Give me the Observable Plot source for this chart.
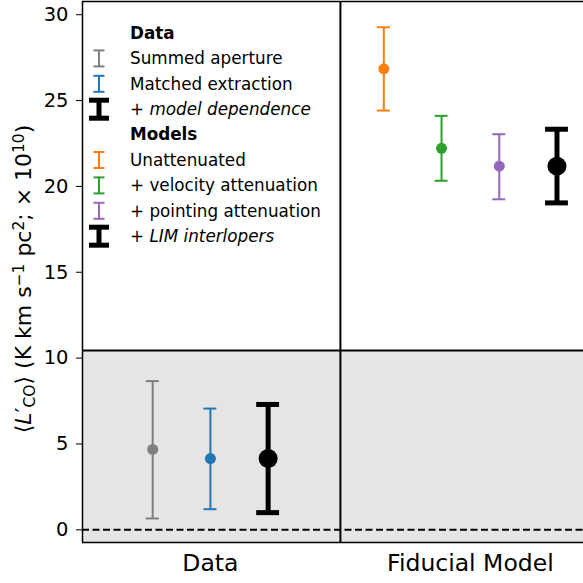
<!DOCTYPE html>
<html>
<head>
<meta charset="utf-8">
<script src="https://cdn.jsdelivr.net/npm/d3@7"></script>
<script src="https://cdn.jsdelivr.net/npm/@observablehq/plot@0.6"></script>
<style>
  html, body { margin: 0; padding: 0; background: white; }
  #chart { width: 583px; height: 583px; overflow: hidden; }
</style>
</head>
<body>
<div id="chart"></div>
<script>
// ---- data ----
const categories = ["Data", "Fiducial Model"];
const seriesNames = ["Summed aperture", "Matched extraction", "+ model dependence",
                     "Unattenuated", "+ velocity attenuation", "+ pointing attenuation", "+ LIM interlopers"];
const seriesGroup = [0, 0, 0, 1, 1, 1, 1];
const centerValues = [4.68, 4.15, 4.15, 26.85, 22.22, 21.18, 21.18];
const lowerValues  = [0.66, 1.20, 1.00, 24.42, 20.33, 19.25, 19.04];
const upperValues  = [8.66, 7.06, 7.30, 29.27, 24.11, 23.04, 23.33];
const yTicks = [0, 5, 10, 15, 20, 25, 30];
const dataRegionTop = 10.44;
const zeroLine = 0;

// ---- styles ----
const seriesColors = ["#7f7f7f", "#1f77b4", "#000000", "#ff7f0e", "#2ca02c", "#9467bd", "#000000"];
const seriesThick  = [false, false, true, false, false, false, true];
const xDomain = [-0.492, 1.435];
const yDomain = [-0.74, 30.77];
const slotSpacing = 0.222;

const rows = seriesNames.map((name, i) => {
  const g = seriesGroup[i];
  const members = seriesGroup.map((gg, j) => gg === g ? j : -1).filter(j => j >= 0);
  const k = members.indexOf(i);
  const pos = g + (k - (members.length - 1) / 2) * slotSpacing;
  return {name, pos, c: centerValues[i], lo: lowerValues[i], hi: upperValues[i],
          color: seriesColors[i], thick: seriesThick[i]};
});
const thin = rows.filter(d => !d.thick);
const thick = rows.filter(d => d.thick);
const capThin = 0.025, capThick = 0.044;

const region = [{x1: xDomain[0], x2: xDomain[1] + 1, y1: yDomain[0], y2: dataRegionTop}];

const plot = Plot.plot({
  width: 583, height: 583,
  marginLeft: 82, marginRight: 0, marginTop: 1, marginBottom: 41,
  x: {domain: xDomain, axis: null},
  y: {domain: yDomain, axis: null},
  style: {fontFamily: "DejaVu Sans", background: "white", color: "black"},
  marks: [
    Plot.rect(region, {x1: "x1", x2: "x2", y1: "y1", y2: "y2", fill: "#e5e5e5"}),
    Plot.ruleY([zeroLine], {stroke: "black", strokeWidth: 2, strokeDasharray: "7,3.5"}),
    Plot.ruleY([dataRegionTop], {stroke: "black", strokeWidth: 2}),
    Plot.ruleX([0.5], {stroke: "black", strokeWidth: 2}),
    Plot.ruleX([xDomain[0]], {stroke: "black", strokeWidth: 1.5}),
    Plot.ruleY(yDomain, {stroke: "black", strokeWidth: 1.5}),
    Plot.axisY({ticks: yTicks, tickSize: 6, tickPadding: 8, fontSize: 19.5, label: null}),
    Plot.axisX({ticks: [0, 1], tickFormat: i => categories[i], tickSize: 0, tickPadding: 12, fontSize: 23.5, label: null}),
    // thin error bars
    Plot.ruleX(thin, {x: "pos", y1: "lo", y2: "hi", stroke: "color", strokeWidth: 2}),
    Plot.ruleY(thin, {y: "lo", x1: d => d.pos - capThin, x2: d => d.pos + capThin, stroke: "color", strokeWidth: 2}),
    Plot.ruleY(thin, {y: "hi", x1: d => d.pos - capThin, x2: d => d.pos + capThin, stroke: "color", strokeWidth: 2}),
    Plot.dot(thin, {x: "pos", y: "c", r: 5.5, fill: "color", stroke: null}),
    // thick error bars
    Plot.ruleX(thick, {x: "pos", y1: "lo", y2: "hi", stroke: "color", strokeWidth: 5}),
    Plot.ruleY(thick, {y: "lo", x1: d => d.pos - capThick, x2: d => d.pos + capThick, stroke: "color", strokeWidth: 5}),
    Plot.ruleY(thick, {y: "hi", x1: d => d.pos - capThick, x2: d => d.pos + capThick, stroke: "color", strokeWidth: 5}),
    Plot.dot(thick, {x: "pos", y: "c", r: 9.5, fill: "color", stroke: null})
  ]
});
document.getElementById("chart").appendChild(plot);

const svg = d3.select(plot);
// enforce axis font sizes
svg.selectAll('g[aria-label="y-axis tick label"]').style("font-size", "19.5px")
  .selectAll("text").style("font-size", "19.5px");
svg.selectAll('g[aria-label="x-axis tick label"]').style("font-size", "23.5px")
  .selectAll("text").style("font-size", "23.5px");

// ---- y-axis label ----
const yl = svg.append("text")
  .attr("transform", "translate(31,279) rotate(-90)")
  .attr("text-anchor", "middle")
  .attr("font-family", "DejaVu Sans")
  .attr("font-size", 22)
  .attr("fill", "black");
const parts = [
  ["⟨", ""], ["L", "italic"], ["′", ""], ["CO", "sub"], ["⟩ (K km s", ""], ["−1", "sup"],
  [" pc", ""], ["2", "sup"], ["; × 10", ""], ["10", "sup"], [")", ""]
];
parts.forEach(([t, kind]) => {
  const ts = yl.append("tspan").text(t);
  if (kind === "italic") ts.attr("font-style", "italic");
  if (kind === "sub") ts.attr("baseline-shift", "-25%").attr("font-size", "70%");
  if (kind === "sup") ts.attr("baseline-shift", "45%").attr("font-size", "70%");
});

// ---- legend ----
const legendRows = [
  {type: "title", text: "Data"},
  {type: "thin", idx: 0}, {type: "thin", idx: 1}, {type: "thick", idx: 2},
  {type: "title", text: "Models"},
  {type: "thin", idx: 3}, {type: "thin", idx: 4}, {type: "thin", idx: 5}, {type: "thick", idx: 6}
];
const lg = svg.append("g").attr("font-family", "DejaVu Sans").attr("font-size", 16.8)
  .attr("text-anchor", "start");
const rowY0 = 33, rowStep = 25.4, textX = 130, symX = 99;
legendRows.forEach((r, i) => {
  const y = rowY0 + i * rowStep;
  if (r.type === "title") {
    lg.append("text").attr("x", textX).attr("y", y).attr("dy", "0.35em")
      .attr("font-weight", "bold").text(r.text);
    return;
  }
  const name = seriesNames[r.idx];
  const col = seriesColors[r.idx];
  const isThick = r.type === "thick";
  const hw = isThick ? 10 : 5.5, hh = isThick ? 9 : 8, sw = isThick ? 5 : 2;
  const g = lg.append("g").attr("stroke", col).attr("stroke-width", sw);
  g.append("line").attr("x1", symX).attr("x2", symX).attr("y1", y - hh).attr("y2", y + hh);
  g.append("line").attr("x1", symX - hw).attr("x2", symX + hw).attr("y1", y - hh).attr("y2", y - hh);
  g.append("line").attr("x1", symX - hw).attr("x2", symX + hw).attr("y1", y + hh).attr("y2", y + hh);
  const t = lg.append("text").attr("x", textX).attr("y", y).attr("dy", "0.35em").attr("fill", "black");
  if (name.startsWith("+ ") && isThick) {
    t.append("tspan").text("+ ");
    t.append("tspan").attr("font-style", "italic").text(name.slice(2));
  } else {
    t.text(name);
  }
});
</script>
</body>
</html>
